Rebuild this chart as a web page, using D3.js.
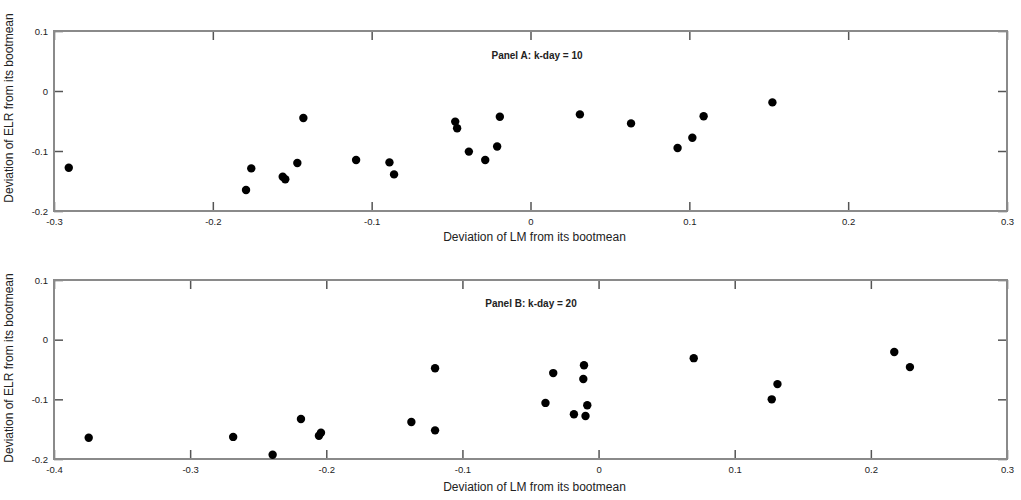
<!DOCTYPE html>
<html><head><meta charset="utf-8">
<script src="https://cdn.jsdelivr.net/npm/d3@7"></script>
<style>body{margin:0;background:#fff}svg{display:block}text{font-family:"Liberation Sans",Arial,sans-serif}</style>
</head><body><svg id="c" width="1021" height="500"></svg>
<script>
// Panel A (k-day = 10)
const panelA_x = [-0.2907,-0.1758,-0.1791,-0.1560,-0.1544,-0.1468,-0.1430,-0.1098,-0.0888,-0.0859,-0.0474,-0.0462,-0.0388,-0.0285,-0.0210,-0.0193,0.0311,0.0633,0.0926,0.1019,0.1090,0.1523];
const panelA_y = [-0.128,-0.129,-0.165,-0.143,-0.147,-0.120,-0.045,-0.115,-0.119,-0.139,-0.051,-0.062,-0.101,-0.115,-0.0925,-0.043,-0.039,-0.054,-0.095,-0.078,-0.042,-0.019];
// Panel B (k-day = 20)
const panelB_x = [-0.3745,-0.2684,-0.2394,-0.2186,-0.2054,-0.2039,-0.1201,-0.1375,-0.1201,-0.0333,-0.0107,-0.0112,-0.0390,-0.0083,-0.0181,-0.0096,0.0699,0.1314,0.1272,0.2172,0.2287];
const panelB_y = [-0.1645,-0.163,-0.193,-0.133,-0.161,-0.156,-0.048,-0.138,-0.152,-0.056,-0.043,-0.066,-0.106,-0.110,-0.125,-0.128,-0.031,-0.0745,-0.100,-0.0207,-0.046];
const xTicksA = [-0.3,-0.2,-0.1,0,0.1,0.2,0.3];
const xTicksB = [-0.4,-0.3,-0.2,-0.1,0,0.1,0.2,0.3];
const yTicks = [-0.2,-0.1,0,0.1];
const titles = ["Panel A: k-day = 10","Panel B: k-day = 20"];
const xLabel = "Deviation of LM from its bootmean";
const yLabel = "Deviation of ELR from its bootmean";

const svg = d3.select("#c");
const fmt = v => (Math.abs(v) < 1e-9 ? "0" : String(+v.toFixed(1)));

function panel(cfg){
  const {top,bottom,left,right,xDom,xTicks,xs,ys,title,titleX,titleY,yTitleY,xTitleY} = cfg;
  const x = d3.scaleLinear().domain(xDom).range([left,right]);
  const y = d3.scaleLinear().domain([-0.2,0.1]).range([bottom,top]);
  const g = svg.append("g");
  const tl = 9;
  const axB = d3.axisBottom(x).tickValues(xTicks).tickFormat(fmt).tickSizeInner(-tl).tickSizeOuter(0).tickPadding(7);
  const axT = d3.axisTop(x).tickValues(xTicks).tickFormat("").tickSizeInner(-tl).tickSizeOuter(0);
  const axL = d3.axisLeft(y).tickValues(yTicks).tickFormat(fmt).tickSizeInner(-tl).tickSizeOuter(0).tickPadding(6);
  const axR = d3.axisRight(y).tickValues(yTicks).tickFormat("").tickSizeInner(-tl).tickSizeOuter(0);
  const styleAx = s => { s.select(".domain").remove(); s.selectAll(".tick line").attr("stroke","#555").attr("stroke-width",1.5);
    s.selectAll(".tick text").attr("fill","#222").style("font-size","9.5px").style("font-family","'Liberation Sans',Arial,sans-serif"); };
  g.append("g").attr("transform",`translate(0,${bottom})`).call(axB).call(styleAx);
  g.append("g").attr("transform",`translate(0,${top})`).call(axT).call(styleAx);
  g.append("g").attr("transform",`translate(${left},0)`).call(axL).call(styleAx);
  g.append("g").attr("transform",`translate(${right},0)`).call(axR).call(styleAx);
  g.append("rect").attr("x",left).attr("y",top).attr("width",right-left).attr("height",bottom-top)
    .attr("fill","none").attr("stroke","#8a8a8a").attr("stroke-width",2);
  g.selectAll("circle.pt").data(xs.map((v,i)=>[v,ys[i]])).join("circle").attr("class","pt")
    .attr("cx",d=>x(d[0])).attr("cy",d=>y(d[1])).attr("r",4.2).attr("fill","#000");
  g.append("text").attr("x",titleX).attr("y",titleY).attr("text-anchor","middle")
    .style("font-size","10px").style("font-weight","bold").attr("fill","#222").text(title);
  g.append("text").attr("x",(left+right)/2+4).attr("y",xTitleY).attr("text-anchor","middle")
    .style("font-size","12px").attr("fill","#222").text(xLabel);
  g.append("text").attr("transform",`translate(13,${yTitleY}) rotate(-90)`).attr("text-anchor","middle")
    .style("font-size","12px").attr("fill","#222").text(yLabel);
}

panel({top:31,bottom:211,left:54,right:1007,xDom:[-0.3,0.3],xTicks:xTicksA,xs:panelA_x,ys:panelA_y,
  title:titles[0],titleX:537,titleY:59,yTitleY:108,xTitleY:241});
panel({top:280,bottom:459,left:54,right:1007,xDom:[-0.4,0.3],xTicks:xTicksB,xs:panelB_x,ys:panelB_y,
  title:titles[1],titleX:531,titleY:307,yTitleY:368,xTitleY:491});
</script></body></html>
